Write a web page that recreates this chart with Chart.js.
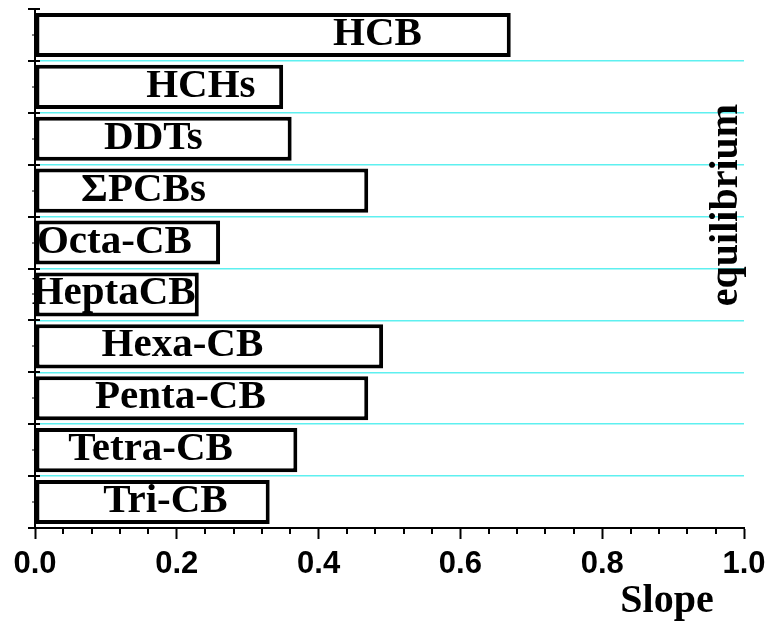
<!DOCTYPE html>
<html>
<head>
<meta charset="utf-8">
<script src="https://cdn.jsdelivr.net/npm/chart.js@4/dist/chart.umd.min.js"></script>
<style>
html,body{margin:0;padding:0;background:#fff;}
#wrap{width:769px;height:622px;position:relative;}
</style>
</head>
<body>
<div id="wrap"><canvas id="c" width="769" height="622"></canvas></div>
<script>
const categories = ["HCB","HCHs","DDTs","\u03A3PCBs","Octa-CB","HeptaCB","Hexa-CB","Penta-CB","Tetra-CB","Tri-CB"];
const slopes = [0.671,0.350,0.362,0.470,0.261,0.231,0.491,0.470,0.370,0.331];
const labelCenters = [0.483,0.234,0.167,0.153,0.112,0.111,0.208,0.205,0.163,0.184];
const xTickValues = [0.0,0.2,0.4,0.6,0.8,1.0];
const xTitle = "Slope";
const sideNote = "equilibrium";

const SERIF = "'Liberation Serif','Times New Roman',serif";
const SANS = "'Liberation Sans',Arial,sans-serif";

const annot = {
  id:'annot',
  afterDraw(chart){
    const ctx = chart.ctx, xs = chart.scales.x, ys = chart.scales.y, ca = chart.chartArea;
    ctx.save();
    // minor x ticks
    ctx.strokeStyle = '#000'; ctx.lineWidth = 2;
    for (let v = 0; v <= 1.0001; v += 0.04) {
      const major = Math.abs(v*5 - Math.round(v*5)) < 1e-6;
      if (major) continue;
      const px = Math.round(xs.getPixelForValue(v));
      ctx.beginPath(); ctx.moveTo(px, ca.bottom); ctx.lineTo(px, ca.bottom+6); ctx.stroke();
    }
    // y ticks at category boundaries
    const n = categories.length;
    for (let i = 0; i <= n; i++) {
      const py = Math.round(ys.getPixelForValue(i - 0.5));
      ctx.beginPath(); ctx.moveTo(ca.left-7, py); ctx.lineTo(ca.left+5, py); ctx.stroke();
    }
    ctx.lineWidth = 1;
    for (let i = 0; i < n; i++) {
      const py = Math.round(ys.getPixelForValue(i));
      ctx.beginPath(); ctx.moveTo(ca.left-3, py); ctx.lineTo(ca.left, py); ctx.stroke();
    }
    // bar labels
    ctx.fillStyle = '#000';
    ctx.font = "bold 41px " + SERIF;
    ctx.textAlign = 'center'; ctx.textBaseline = 'alphabetic';
    for (let i = 0; i < n; i++) {
      ctx.fillText(categories[i], xs.getPixelForValue(labelCenters[i]), ys.getPixelForValue(i) + 10);
    }
    // x title
    ctx.font = "bold 40px " + SERIF;
    ctx.fillText(xTitle, 667, 612);
    // side note
    ctx.translate(737, 205);
    ctx.rotate(-Math.PI/2);
    ctx.textAlign = 'center'; ctx.textBaseline = 'alphabetic';
    ctx.fillText(sideNote, 0, 0);
    ctx.restore();
  }
};

new Chart(document.getElementById('c'), {
  type: 'bar',
  data: {
    labels: categories,
    datasets: [{
      data: slopes,
      backgroundColor: '#ffffff',
      borderColor: '#000000',
      borderWidth: 4,
      borderSkipped: false,
      barPercentage: 0.85,
      categoryPercentage: 1.0
    }]
  },
  options: {
    indexAxis: 'y',
    responsive: false,
    animation: false,
    devicePixelRatio: 1,
    layout: { padding: { top: 9, right: 25, left: 0, bottom: 0 } },
    plugins: { legend: { display: false }, tooltip: { enabled: false }, title: { display: false } },
    scales: {
      x: {
        type: 'linear', min: 0, max: 1,
        afterBuildTicks(scale){ scale.ticks = xTickValues.map(v => ({value: v})); },
        afterFit(scale){ scale.height = 94; scale.paddingLeft = 0; scale.paddingRight = 0; },
        ticks: {
          callback: v => Number(v).toFixed(1),
          color: '#000',
          font: { family: SANS, weight: 'bold', size: 31 },
          padding: 7,
          maxRotation: 0,
          autoSkip: false
        },
        grid: { drawOnChartArea: false, drawTicks: true, tickLength: 11, tickColor: '#000', tickWidth: 2 },
        border: { display: true, color: '#000', width: 2 }
      },
      y: {
        type: 'category',
        afterFit(scale){ scale.width = 35; },
        ticks: { display: false },
        grid: {
          offset: true,
          drawTicks: false,
          lineWidth: 1.5,
          color: c => (c.type === 'tick' && c.index > 0) ? '#5ef0f0' : 'rgba(0,0,0,0)'
        },
        border: { display: true, color: '#000', width: 2 }
      }
    }
  },
  plugins: [annot]
});
</script>
</body>
</html>
